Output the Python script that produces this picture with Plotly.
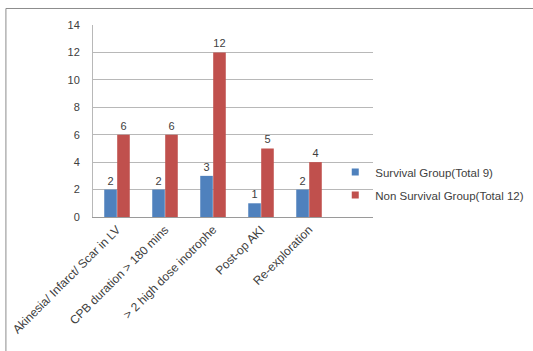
import plotly.graph_objects as go

categories = [
    "Akinesia/ Infarct/ Scar in LV",
    "CPB duration > 180 mins",
    "> 2 high dose inotrophe",
    "Post-op AKI",
    "Re-exploration",
]
survival = [2, 2, 3, 1, 2]
non_survival = [6, 6, 12, 5, 4]
y_ticks = [0, 2, 4, 6, 8, 10, 12, 14]

series = [
    ("Survival Group(Total 9)", survival, "#4F81BD"),
    ("Non Survival Group(Total 12)", non_survival, "#C0504D"),
]

FONT = "Liberation Sans"
TXT = "#404040"

fig = go.Figure()
for i, (name, vals, color) in enumerate(series):
    fig.add_bar(
        x=categories, y=vals, name=name, showlegend=False,
        marker=dict(color=color, line=dict(width=0)),
        text=vals, textposition="outside", cliponaxis=False,
        textfont=dict(size=11, color=TXT, family=FONT),
        legendgroup=f"g{i}",
    )
for i, (name, vals, color) in enumerate(series):
    # small square key for the legend
    fig.add_scatter(
        x=[categories[0]], y=[None], mode="markers", name=name,
        marker=dict(symbol="square", size=7, color=color),
        legendgroup=f"g{i}", hoverinfo="skip",
    )

fig.update_layout(
    width=533, height=351,
    margin=dict(l=93, r=160, t=25, b=134, autoexpand=False),
    paper_bgcolor="white", plot_bgcolor="white",
    barmode="group", bargap=0.46, bargroupgap=0.03,
    font=dict(family=FONT, size=11, color=TXT),
    showlegend=True,
    legend=dict(
        xref="container", yref="container",
        x=0.629, y=0.477, xanchor="left", yanchor="middle",
        font=dict(size=11.5, color=TXT, family=FONT),
        traceorder="grouped", tracegroupgap=4,
        bgcolor="rgba(0,0,0,0)", itemwidth=30,
    ),
    xaxis=dict(
        range=[-0.5, 5.333], tickangle=-45,
        showgrid=False, showline=True, linecolor="#9a9a9a", linewidth=1,
        ticks="", tickfont=dict(size=12, color=TXT, family=FONT),
        fixedrange=True,
    ),
    yaxis=dict(
        range=[0, 14], tickvals=y_ticks, showgrid=True, gridcolor="#b8b8b8",
        gridwidth=1, showline=True, linecolor="#b8b8b8", linewidth=1,
        ticks="", ticklabelstandoff=10, zeroline=False,
        tickfont=dict(size=11, color=TXT, family=FONT),
        fixedrange=True,
    ),
    shapes=[
        dict(type="rect", xref="paper", yref="paper",
             x0=-0.311, y0=-1.0, x1=2.0, y1=1.086,
             line=dict(color="#8c8c8c", width=1), fillcolor="rgba(0,0,0,0)",
             layer="below"),
    ],
)

fig.write_html("out.html")
